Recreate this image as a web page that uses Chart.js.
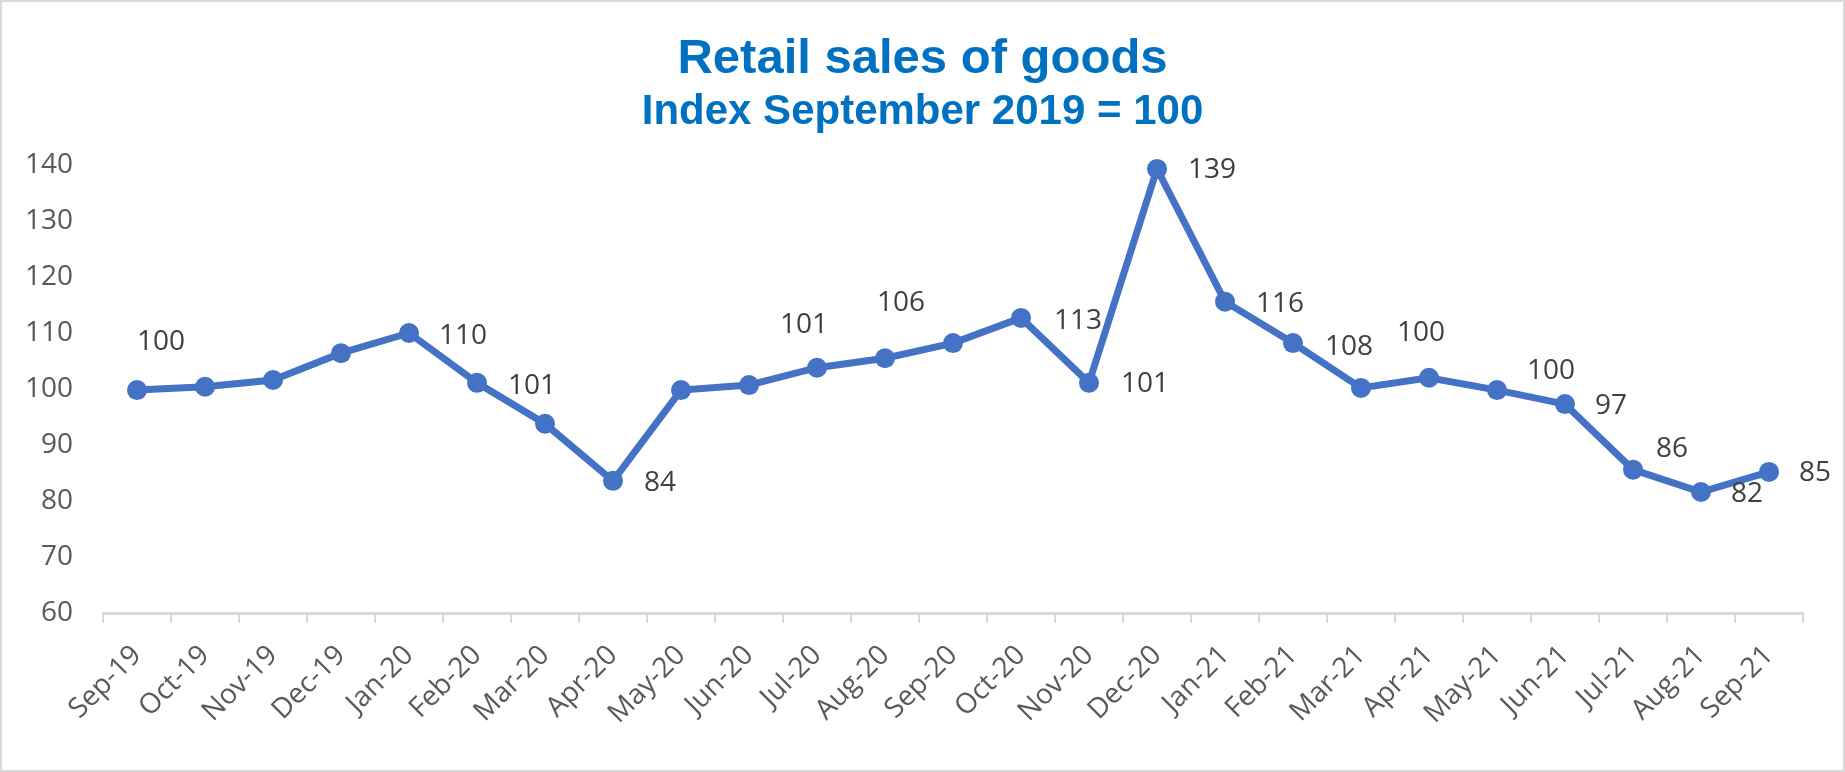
<!DOCTYPE html>
<html lang="en">
<head>
  <meta charset="UTF-8" />
  <title>Retail sales of goods</title>
  <script src="https://cdn.jsdelivr.net/npm/chart.js"></script>
  <style>
    body {
      margin: 0;
      background: #ffffff;
    }
    .frame {
      width: 1845px;
      height: 772px;
      box-sizing: border-box;
      border: 2px solid #d9d9d9;
      background: #ffffff;
    }
    canvas {
      display: block;
    }
  </style>
</head>
<body>
  <div class="frame">
    <canvas id="salesChart" width="1841" height="768"></canvas>
  </div>

  <script>
    const months = [
      'Sep-19', 'Oct-19', 'Nov-19', 'Dec-19', 'Jan-20', 'Feb-20', 'Mar-20',
      'Apr-20', 'May-20', 'Jun-20', 'Jul-20', 'Aug-20', 'Sep-20', 'Oct-20',
      'Nov-20', 'Dec-20', 'Jan-21', 'Feb-21', 'Mar-21', 'Apr-21', 'May-21',
      'Jun-21', 'Jul-21', 'Aug-21', 'Sep-21'
    ];

    const indexValues = [
      99.8, 100.4, 101.6, 106.4, 110.0, 101.1, 93.8,
      83.6, 99.8, 100.7, 103.8, 105.5, 108.2, 112.7,
      101.1, 139.3, 115.6, 108.2, 100.2, 102.0, 99.8,
      97.3, 85.6, 81.6, 85.2
    ];

    // only some points carry a label in the original
    const labelTexts = [
      '100', null, null, null, '110', '101', null,
      '84', null, '101', null, '106', null, '113',
      '101', '139', '116', '108', '100', null, '100',
      '97', '86', '82', '85'
    ];

    const yTicks = [60, 70, 80, 90, 100, 110, 120, 130, 140];

    // where each label sits relative to its point (px)
    const labelShift = [
      [24, -48], null, null, null, [54, 3], [55, 3], null,
      [47, 2], null, [55, -60], null, [16, -55], null, [57, 3],
      [56, 1], [55, 1], [55, 2], [56, 4], [60, -55], null, [54, -19],
      [46, 2], [39, -21], [46, 2], [46, 1]
    ];

    const tickFont = { family: "'Open Sans', sans-serif", size: 28 };

    const pointLabels = {
      id: 'pointLabels',
      afterDatasetsDraw(chart) {
        const ctx = chart.ctx;
        const meta = chart.getDatasetMeta(0);
        ctx.save();
        ctx.font = `${tickFont.size}px ${tickFont.family}`;
        ctx.fillStyle = '#404040';
        ctx.textAlign = 'center';
        ctx.textBaseline = 'middle';
        meta.data.forEach((pt, i) => {
          if (!labelTexts[i]) return;
          const s = labelShift[i] || [0, 0];
          ctx.fillText(labelTexts[i], pt.x + s[0], pt.y + s[1]);
        });
        ctx.restore();
      }
    };

    new Chart(document.getElementById('salesChart'), {
      type: 'line',
      data: {
        labels: months,
        datasets: [{
          label: 'Retail sales of goods',
          data: indexValues,
          borderColor: '#4472C4',
          backgroundColor: '#4472C4',
          borderWidth: 7,
          pointRadius: 10,
          pointHoverRadius: 10,
          pointBorderWidth: 0,
          tension: 0,
          fill: false,
          clip: false
        }]
      },
      options: {
        responsive: false,
        animation: false,
        layout: {
          padding: 0
        },
        plugins: {
          legend: { display: false },
          tooltip: { enabled: false },
          title: {
            display: true,
            text: 'Retail sales of goods',
            color: '#0070C0',
            font: { family: "'Liberation Sans', Arial, sans-serif", size: 49, weight: 'bold', lineHeight: 1 },
            padding: { top: 33, bottom: 0 }
          },
          subtitle: {
            display: true,
            text: 'Index September 2019 = 100',
            color: '#0070C0',
            font: { family: "'Liberation Sans', Arial, sans-serif", size: 42, weight: 'bold', lineHeight: 1 },
            padding: { top: 7, bottom: 32 }
          }
        },
        scales: {
          x: {
            offset: true,
            afterFit: scale => { scale.height = 157; },
            grid: {
              display: true,
              offset: true,
              drawOnChartArea: false,
              drawTicks: true,
              tickLength: 10,
              color: '#d9d9d9',
              lineWidth: 2
            },
            border: { display: true, color: '#d9d9d9', width: 3 },
            ticks: {
              color: '#595959',
              font: tickFont,
              autoSkip: false,
              maxRotation: 45,
              minRotation: 45,
              padding: 16
            }
          },
          y: {
            min: yTicks[0],
            max: yTicks[yTicks.length - 1],
            afterFit: scale => { scale.width = 101; },
            afterBuildTicks: scale => { scale.ticks = yTicks.map(v => ({ value: v })); },
            grid: { display: false, drawTicks: false },
            border: { display: false },
            ticks: {
              color: '#595959',
              font: tickFont,
              padding: 30
            }
          },
          // empty right-hand gutter so the plot ends where the original does
          gutter: {
            type: 'linear',
            position: 'right',
            display: true,
            afterFit: scale => { scale.width = 40; },
            grid: { display: false, drawTicks: false },
            border: { display: false },
            ticks: { display: false }
          }
        }
      },
      plugins: [pointLabels]
    });
  </script>
</body>
</html>
